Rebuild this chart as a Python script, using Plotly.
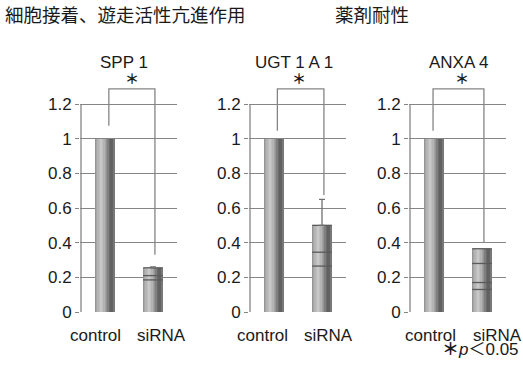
import plotly.graph_objects as go

# ---- data ----
genes = ["SPP 1", "UGT 1 A 1", "ANXA 4"]
groups = ["control", "siRNA"]
control_vals = [1.0, 1.0, 1.0]
sirna_vals = [0.255, 0.50, 0.365]
sirna_err = [0.005, 0.15, 0.0]
inner_lines = [[0.21, 0.185], [0.345, 0.265], [0.28, 0.17, 0.13]]
bracket_left_end = [1.075, 1.045, 1.045]
bracket_right_end = [0.33, 0.675, 0.40]
bracket_top = 1.287
y_ticks = [0, 0.2, 0.4, 0.6, 0.8, 1.0, 1.2]
header_left = "細胞接着、遊走活性亢進作用"
header_right = "薬剤耐性"
sig_note = "<b>＊</b><i>p</i>＜0.05"

W, H = 523, 371
GRID = "#858585"
FONT = "Liberation Sans, Arial, Noto Sans CJK JP"
CJK = "Noto Sans CJK JP"

def px(x):
    return x / W

def py(y):
    return 1 - y / H

panel_px = [(80, 177), (249, 346), (409, 506)]
bracket_dx = [(0.08, 1.04), (0.07, 1.04), (-0.02, 1.04)]
label_px = [(95, 161.5), (262, 328), (430, 497)]
title_px = [123.5, 294, 459]
star_px = [132, 299, 462]
y0_px, ytop_px = 312, 52
yrange = [0, 1.5]
xrange_ = [-0.521, 1.5]
bar_w = 0.41

# gradient for cylindrical bars
stops = [(0.0, 0x8c), (0.15, 0xb0), (0.32, 0xc8), (0.48, 0xb2), (0.62, 0x90),
         (0.76, 0x68), (0.87, 0x5c), (1.0, 0x82)]

def shade(t):
    for (a, ca), (b, cb) in zip(stops[:-1], stops[1:]):
        if a <= t <= b:
            v = ca + (cb - ca) * (t - a) / (b - a)
            v = int(round(v))
            return f"rgb({v},{v},{v})"
    return "rgb(128,128,128)"

N = 14
fig = go.Figure()
layout_axes = {}
annotations = []

for i, gene in enumerate(genes):
    xa = "x" if i == 0 else f"x{i+1}"
    ya = "y" if i == 0 else f"y{i+1}"
    xkey = "xaxis" if i == 0 else f"xaxis{i+1}"
    ykey = "yaxis" if i == 0 else f"yaxis{i+1}"
    x0p, x1p = panel_px[i]
    layout_axes[xkey] = dict(domain=[px(x0p), px(x1p)], range=xrange_, showgrid=False,
                             zeroline=False, showticklabels=False, ticks="", anchor=ya,
                             fixedrange=True, automargin=False)
    layout_axes[ykey] = dict(domain=[py(y0_px), py(ytop_px)], range=yrange, tickvals=y_ticks,
                             showgrid=True, gridcolor=GRID, gridwidth=1.3, zeroline=False,
                             showline=False, ticks="outside", ticklen=4, tickcolor=GRID,
                             tickwidth=1.3, anchor=xa, automargin=False, fixedrange=True,
                             tickfont=dict(family=FONT, size=17, color="#1a1a1a"))
    vals = [control_vals[i], sirna_vals[i]]
    # y-axis line (0 .. 1.2)
    fig.add_trace(go.Scatter(x=[xrange_[0] + 0.021] * 2, y=[0, y_ticks[-1]], mode="lines",
                             line=dict(color=GRID, width=1.3), xaxis=xa, yaxis=ya,
                             hoverinfo="skip", showlegend=False))
    # gradient bars as slices
    sw = bar_w / N
    for k in range(N):
        off = -bar_w / 2 + k * sw
        fig.add_trace(go.Bar(x=[0, 1], y=vals, width=[sw * 1.06] * 2, offset=[off] * 2,
                             marker=dict(color=shade((k + 0.5) / N), line=dict(width=0)),
                             xaxis=xa, yaxis=ya, hoverinfo="skip", showlegend=False))
    # inner lines on siRNA bar
    lx, ly = [], []
    for v in inner_lines[i]:
        lx += [1 - bar_w / 2, 1 + bar_w / 2, None]
        ly += [v, v, None]
    lx += [1 - bar_w / 2, 1 + bar_w / 2, None]
    ly += [sirna_vals[i], sirna_vals[i], None]
    fig.add_trace(go.Scatter(x=lx, y=ly, mode="lines", line=dict(color="#5a5a5a", width=1.3),
                             xaxis=xa, yaxis=ya, hoverinfo="skip", showlegend=False))
    # error bar
    if sirna_err[i] > 0:
        fig.add_trace(go.Scatter(x=[1], y=[sirna_vals[i]], mode="markers",
                                 marker=dict(size=1, color="rgba(0,0,0,0)"),
                                 error_y=dict(type="data", array=[sirna_err[i]], arrayminus=[0],
                                              color="#707070", thickness=1.3, width=3),
                                 xaxis=xa, yaxis=ya, hoverinfo="skip", showlegend=False))
    # significance bracket
    bl, br = bracket_dx[i]
    fig.add_trace(go.Scatter(x=[bl, bl, br, br],
                             y=[bracket_left_end[i], bracket_top, bracket_top, bracket_right_end[i]],
                             mode="lines", line=dict(color=GRID, width=1.3),
                             xaxis=xa, yaxis=ya, hoverinfo="skip", showlegend=False))
    annotations.append(dict(text=gene, x=px(title_px[i]), y=py(62), xref="paper", yref="paper",
                            showarrow=False, font=dict(family=FONT, size=17, color="#1a1a1a"),
                            xanchor="center", yanchor="middle"))
    annotations.append(dict(text="<b>＊</b>", x=px(star_px[i]), y=py(78), xref="paper",
                            yref="paper", showarrow=False,
                            font=dict(family=CJK, size=14, color="#1a1a1a"),
                            xanchor="center", yanchor="middle"))
    for g, lbl in enumerate(groups):
        annotations.append(dict(text=lbl, x=px(label_px[i][g]), y=py(335), xref="paper",
                                yref="paper", showarrow=False,
                                font=dict(family=FONT, size=17, color="#1a1a1a"),
                                xanchor="center", yanchor="middle"))

annotations.append(dict(text=header_left, x=px(3), y=py(14), xref="paper", yref="paper",
                        showarrow=False, xanchor="left", yanchor="middle",
                        font=dict(family=CJK, size=18.5, color="#1a1a1a")))
annotations.append(dict(text=header_right, x=px(333), y=py(14), xref="paper", yref="paper",
                        showarrow=False, xanchor="left", yanchor="middle",
                        font=dict(family=CJK, size=18.5, color="#1a1a1a")))
annotations.append(dict(text=sig_note, x=px(521), y=py(349), xref="paper", yref="paper",
                        showarrow=False, xanchor="right", yanchor="middle",
                        font=dict(family=FONT, size=17, color="#1a1a1a")))

fig.update_layout(width=W, height=H, margin=dict(l=0, r=0, t=0, b=0, pad=0, autoexpand=False),
                  paper_bgcolor="white", plot_bgcolor="white", barmode="overlay",
                  bargap=0, showlegend=False, annotations=annotations, **layout_axes)

page_fix = (
    "var s=document.createElement('style');"
    "s.textContent='html,body{margin:0;padding:0;width:523px;height:371px;overflow:hidden;}"
    "body>div{width:523px;height:371px;overflow:hidden;line-height:0;}';"
    "document.head.appendChild(s);"
)

fig.write_html("out.html", config={"displayModeBar": False}, post_script=page_fix)
